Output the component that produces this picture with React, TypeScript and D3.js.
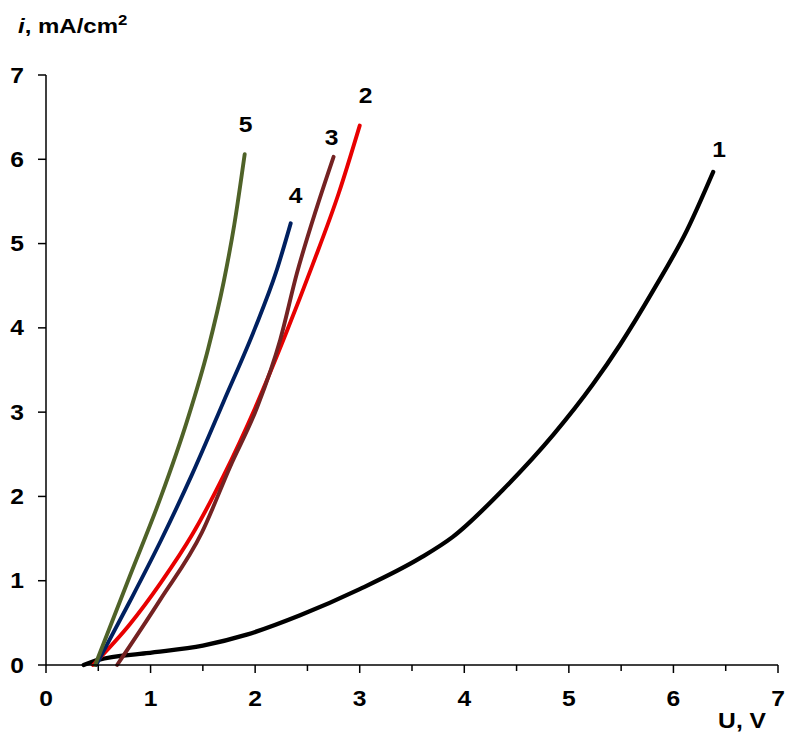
import React from "react";
import * as d3 from "d3";

// readings from the reference curves (U in V, i in mA/cm2)
const u1 = [0.36, 0.5, 0.96, 1.5, 1.92, 2.43, 3.0, 3.58, 3.89, 4.37, 4.85, 5.23, 5.49, 5.81, 6.13, 6.38];
const i1 = [0, 0.06, 0.14, 0.23, 0.36, 0.59, 0.9, 1.27, 1.52, 2.08, 2.73, 3.33, 3.8, 4.45, 5.16, 5.85];

const u2 = [0.45, 0.8, 1.1, 1.4, 1.7, 2.0, 2.3, 2.55, 2.8, 3.0];
const i2 = [0, 0.48, 0.98, 1.55, 2.25, 3.05, 3.95, 4.75, 5.6, 6.4];

const u3 = [0.68, 1.09, 1.49, 1.76, 2.02, 2.24, 2.4, 2.59, 2.75];
const i3 = [0, 0.77, 1.57, 2.35, 3.06, 3.86, 4.65, 5.43, 6.03];

const u4 = [0.48, 0.8, 1.1, 1.4, 1.7, 2.0, 2.2, 2.34];
const i4 = [0, 0.75, 1.48, 2.27, 3.13, 4.0, 4.66, 5.24];

const u5 = [0.47, 0.8, 1.1, 1.35, 1.55, 1.7, 1.8, 1.9];
const i5 = [0, 1.05, 2.0, 2.9, 3.75, 4.55, 5.22, 6.06];

const curveNames = ["1", "2", "3", "4", "5"];
const xTicks = [0, 1, 2, 3, 4, 5, 6, 7];
const yTicks = [0, 1, 2, 3, 4, 5, 6, 7];

const WIDTH = 787;
const HEIGHT = 732;
const FONT = "'Liberation Sans', Arial, sans-serif";

const series = [
  { name: curveNames[0], u: u1, i: i1, color: "#000000", width: 4.3, dx: 6, dy: -15 },
  { name: curveNames[1], u: u2, i: i2, color: "#E80000", width: 3.9, dx: 6, dy: -23 },
  { name: curveNames[2], u: u3, i: i3, color: "#742222", width: 3.9, dx: -2, dy: -12 },
  { name: curveNames[3], u: u4, i: i4, color: "#002060", width: 3.9, dx: 5, dy: -20 },
  { name: curveNames[4], u: u5, i: i5, color: "#4F6228", width: 3.9, dx: 1, dy: -22 },
];

export default function App() {
  const x = d3.scaleLinear().domain([0, 7]).range([46, 778]);
  const y = d3.scaleLinear().domain([0, 7]).range([665, 75]);

  const line = d3
    .line<[number, number]>()
    .x((d) => x(d[0]))
    .y((d) => y(d[1]))
    .curve(d3.curveMonotoneX);

  const halfTicks = d3.range(0, 7.01, 0.5);
  const stretch = 1.12;

  return (
    <div style={{ position: "absolute", left: 0, top: 0 }}>
      <svg width={WIDTH} height={HEIGHT} style={{ display: "block", background: "#fff" }}>
        {/* curves */}
        {series.map((s) => (
          <path
            key={s.name}
            d={line(s.u.map((u, k) => [u, s.i[k]] as [number, number])) || ""}
            fill="none"
            stroke={s.color}
            strokeWidth={s.width}
            strokeLinecap="round"
            strokeLinejoin="round"
          />
        ))}

        {/* axes */}
        <g stroke="#000" strokeWidth={1.5} fill="none">
          <line x1={x(0)} x2={x(7)} y1={y(0)} y2={y(0)} />
          <line x1={x(0)} x2={x(0)} y1={y(0)} y2={y(7)} />
          {yTicks.map((t) => (
            <line key={"yt" + t} x1={x(0) - 8} x2={x(0)} y1={y(t)} y2={y(t)} />
          ))}
          {halfTicks.map((t) => (
            <line
              key={"xt" + t}
              x1={x(t)}
              x2={x(t)}
              y1={y(0)}
              y2={y(0) + (Number.isInteger(t) ? 8 : 6)}
            />
          ))}
        </g>

        <g fontFamily={FONT} fontWeight="bold" fontSize={22} fill="#000">
          {yTicks.map((t) => (
            <text
              key={"yl" + t}
              textAnchor="end"
              dominantBaseline="central"
              transform={`translate(${x(0) - 22},${y(t)}) scale(${stretch},1)`}
            >
              {t}
            </text>
          ))}
          {xTicks.map((t) => (
            <text
              key={"xl" + t}
              textAnchor="middle"
              transform={`translate(${x(t)},${y(0) + 41}) scale(${stretch},1)`}
            >
              {t}
            </text>
          ))}
        </g>

        {/* curve labels */}
        <g fontFamily={FONT} fontWeight="bold" fontSize={22} fill="#000">
          {series.map((s) => {
            const n = s.u.length - 1;
            return (
              <text
                key={"cl" + s.name}
                textAnchor="middle"
                transform={`translate(${x(s.u[n]) + s.dx},${y(s.i[n]) + s.dy}) scale(${stretch},1)`}
              >
                {s.name}
              </text>
            );
          })}
        </g>

        {/* axis titles */}
        <g fontFamily={FONT} fontWeight="bold" fill="#000">
          <text transform={`translate(18,33) scale(1.2,1)`} fontSize={20}>
            <tspan fontStyle="italic">i</tspan>
            <tspan>, mA/cm</tspan>
            <tspan fontSize={14} dy={-8}>2</tspan>
          </text>
          <text textAnchor="end" transform={`translate(766,728) scale(1.12,1)`} fontSize={22}>
            U, V
          </text>
        </g>
      </svg>
    </div>
  );
}
